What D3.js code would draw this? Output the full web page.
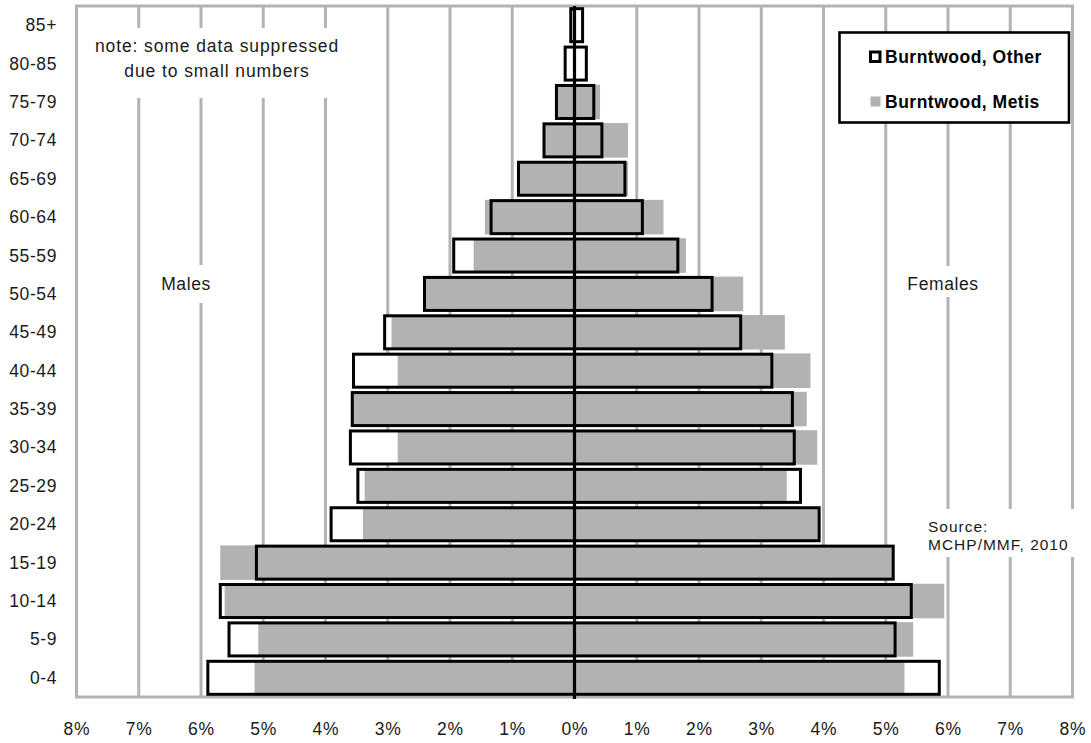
<!DOCTYPE html>
<html>
<head>
<meta charset="utf-8">
<script src="https://cdn.jsdelivr.net/npm/d3@7"></script>
<style>
  html, body { margin: 0; padding: 0; background: #fff; }
  svg { display: block; font-family: "Liberation Sans", Arial, sans-serif; }
</style>
</head>
<body>
<svg id="chart" width="1091" height="743"></svg>
<script>
// Age groups, youngest first (drawn bottom to top)
const ageGroups = ["0-4", "5-9", "10-14", "15-19", "20-24", "25-29", "30-34", "35-39",
  "40-44", "45-49", "50-54", "55-59", "60-64", "65-69", "70-74", "75-79", "80-85", "85+"];

// Percent of population, Burntwood "Other" (outlined bars)
const otherMales   = [5.89, 5.55, 5.69, 5.11, 3.91, 3.48, 3.60, 3.57, 3.55, 3.05, 2.41, 1.94, 1.34, 0.90, 0.49, 0.29, 0.15, 0.06];
const otherFemales = [5.86, 5.15, 5.41, 5.12, 3.93, 3.63, 3.53, 3.50, 3.17, 2.67, 2.21, 1.66, 1.09, 0.81, 0.44, 0.31, 0.19, 0.13];

// Percent of population, Burntwood Metis (grey bars); null = suppressed
const metisMales   = [5.14, 5.08, 5.62, 5.69, 3.40, 3.37, 2.84, 3.56, 2.84, 2.94, 2.40, 1.62, 1.44, 0.89, 0.48, 0.28, null, null];
const metisFemales = [5.30, 5.44, 5.94, 5.10, 3.91, 3.41, 3.90, 3.73, 3.79, 3.38, 2.71, 1.79, 1.43, 0.86, 0.86, 0.41, null, null];

// Axis ticks (percent)
const xTicks = [-8, -7, -6, -5, -4, -3, -2, -1, 0, 1, 2, 3, 4, 5, 6, 7, 8];

const GRID = "#b3b3b3";
const BAR_GREY = "#b2b2b2";
const TEXT = "#1a1a1a";

const svg = d3.select("#chart");

const plot = { left: 76.5, right: 1072.5, top: 6, bottom: 697 };

const x = d3.scaleLinear().domain([-8, 8]).range([plot.left, plot.right]);
const y = d3.scaleBand().domain(ageGroups.slice().reverse()).range([plot.top, plot.bottom]).padding(0);
const bw = y.bandwidth();

// Vertical gridlines
svg.append("g").selectAll("line")
  .data(xTicks.filter(t => t !== 0 && Math.abs(t) !== 8))
  .join("line")
  .attr("x1", d => x(d)).attr("x2", d => x(d))
  .attr("y1", plot.top).attr("y2", plot.bottom)
  .attr("stroke", GRID).attr("stroke-width", 3);

// Plot frame
svg.append("rect")
  .attr("x", plot.left).attr("y", plot.top)
  .attr("width", plot.right - plot.left).attr("height", plot.bottom - plot.top)
  .attr("fill", "none").attr("stroke", GRID).attr("stroke-width", 3);

// Text boxes with white backgrounds
function textBox(bx, by, bwid, bht, lines, opts) {
  const g = svg.append("g");
  g.append("rect").attr("x", bx).attr("y", by).attr("width", bwid).attr("height", bht).attr("fill", "#fff");
  lines.forEach(l => {
    g.append("text")
      .attr("x", l.x).attr("y", l.y)
      .attr("text-anchor", opts.anchor || "middle")
      .attr("dominant-baseline", "central")
      .attr("font-size", opts.size)
      .attr("letter-spacing", opts.spacing)
      .attr("fill", TEXT)
      .text(l.t);
  });
}

textBox(88, 28, 260, 70, [
  { x: 217, y: 46, t: "note: some data suppressed" },
  { x: 217, y: 71, t: "due to small numbers" }
], { size: 17.5, spacing: 0.9 });

textBox(155, 265, 62, 38, [{ x: 186, y: 284, t: "Males" }], { size: 17.5, spacing: 0.6 });
textBox(900, 266, 86, 31, [{ x: 943, y: 284, t: "Females" }], { size: 17.5, spacing: 0.6 });

textBox(922, 509, 154, 48, [
  { x: 928, y: 526, t: "Source:" },
  { x: 928, y: 544, t: "MCHP/MMF, 2010" }
], { size: 15.5, spacing: 1, anchor: "start" });

// Bars
const rows = ageGroups.map((a, i) => ({
  age: a,
  oM: otherMales[i], oF: otherFemales[i],
  mM: metisMales[i], mF: metisFemales[i]
}));

const greyInset = bw * 0.05, greyH = bw * 0.9;
const outInset = bw * 0.07, outH = bw * 0.86;

const bars = svg.append("g");

// White fill under the outlined bars
bars.selectAll("rect.ofill")
  .data(rows)
  .join("rect").attr("class", "ofill")
  .attr("x", d => x(-d.oM))
  .attr("y", d => y(d.age) + outInset)
  .attr("width", d => x(d.oF) - x(-d.oM))
  .attr("height", outH)
  .attr("fill", "#fff");

// Grey Metis bars, males to the left, females to the right
bars.selectAll("rect.mm")
  .data(rows.filter(d => d.mM != null))
  .join("rect").attr("class", "mm")
  .attr("x", d => x(-d.mM))
  .attr("y", d => y(d.age) + greyInset)
  .attr("width", d => x(0) - x(-d.mM))
  .attr("height", greyH)
  .attr("fill", BAR_GREY);

bars.selectAll("rect.mf")
  .data(rows.filter(d => d.mF != null))
  .join("rect").attr("class", "mf")
  .attr("x", x(0))
  .attr("y", d => y(d.age) + greyInset)
  .attr("width", d => x(d.mF) - x(0))
  .attr("height", greyH)
  .attr("fill", BAR_GREY);

// Outlines of the Other bars
bars.selectAll("rect.om")
  .data(rows)
  .join("rect").attr("class", "om")
  .attr("x", d => x(-d.oM))
  .attr("y", d => y(d.age) + outInset)
  .attr("width", d => x(0) - x(-d.oM))
  .attr("height", outH)
  .attr("fill", "none").attr("stroke", "#000").attr("stroke-width", 3);

bars.selectAll("rect.of")
  .data(rows)
  .join("rect").attr("class", "of")
  .attr("x", x(0))
  .attr("y", d => y(d.age) + outInset)
  .attr("width", d => x(d.oF) - x(0))
  .attr("height", outH)
  .attr("fill", "none").attr("stroke", "#000").attr("stroke-width", 3);

// Centre axis
svg.append("line")
  .attr("x1", x(0)).attr("x2", x(0))
  .attr("y1", plot.top).attr("y2", plot.bottom + 2)
  .attr("stroke", "#000").attr("stroke-width", 3.2);

// X axis labels (absolute percent on both sides)
const xAxis = d3.axisBottom(x).tickValues(xTicks).tickSize(0).tickPadding(0)
  .tickFormat(d => Math.abs(d) + "%");
const gx = svg.append("g").attr("transform", `translate(0, ${plot.bottom})`).call(xAxis);
gx.select(".domain").remove();
gx.selectAll("text")
  .attr("y", 32).attr("dy", null)
  .attr("dominant-baseline", "central")
  .attr("font-family", "Liberation Sans, Arial, sans-serif")
  .attr("font-size", 17.5).attr("letter-spacing", 0.8)
  .attr("fill", TEXT);

// Y axis labels (age groups)
const yAxis = d3.axisLeft(y).tickSize(0).tickPadding(0);
const gy = svg.append("g").attr("transform", `translate(57, 0)`).call(yAxis);
gy.select(".domain").remove();
gy.selectAll("text")
  .attr("x", 0).attr("dy", null)
  .attr("dominant-baseline", "central")
  .attr("text-anchor", "end")
  .attr("font-family", "Liberation Sans, Arial, sans-serif")
  .attr("font-size", 17.5).attr("letter-spacing", 0.6)
  .attr("fill", TEXT);

// Legend
const lg = svg.append("g");
lg.append("rect").attr("x", 839.5).attr("y", 32.5).attr("width", 229.5).attr("height", 90)
  .attr("fill", "#fff").attr("stroke", "#000").attr("stroke-width", 2.6);
lg.append("rect").attr("x", 870.5).attr("y", 52).attr("width", 9.5).attr("height", 9.5)
  .attr("fill", "#fff").attr("stroke", "#000").attr("stroke-width", 3);
lg.append("rect").attr("x", 870.5).attr("y", 96.5).attr("width", 10).attr("height", 10)
  .attr("fill", BAR_GREY);
[["Burntwood, Other", 56.5], ["Burntwood, Metis", 101.5]].forEach(([t, ty]) => {
  lg.append("text").attr("x", 885).attr("y", ty)
    .attr("dominant-baseline", "central")
    .attr("font-size", 17.5).attr("font-weight", "bold").attr("letter-spacing", 0.5)
    .attr("fill", "#000").text(t);
});
</script>
</body>
</html>
